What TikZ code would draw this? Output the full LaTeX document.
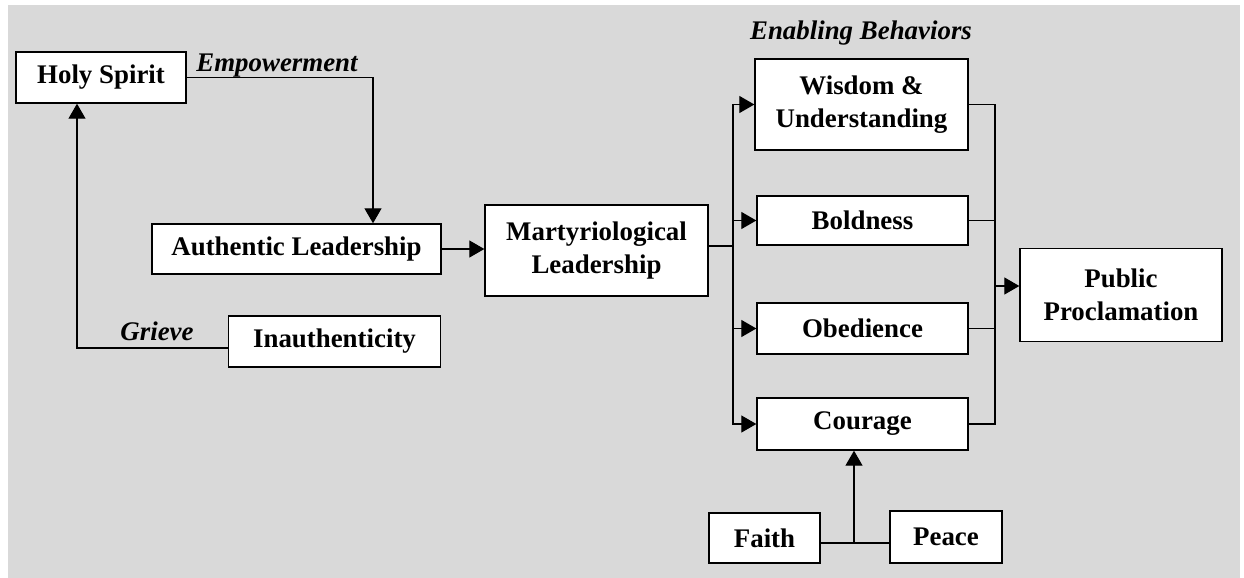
\documentclass[tikz,border=0pt]{standalone}
\usepackage{fontspec}
\setmainfont{Liberation Serif}
\usetikzlibrary{arrows.meta}
\definecolor{mygray}{RGB}{217,217,217}

\begin{document}
\begin{tikzpicture}[x=0.02cm,y=-0.02cm,inner sep=0pt,
  font=\fontsize{15.3}{19}\selectfont\bfseries]
\tikzstyle{box}=[rectangle, draw=black, fill=white, line width=0.8pt, align=center]
\tikzstyle{connect}=[-{Triangle[length=0.3cm,width=0.34cm]}, line width=0.7pt]
\tikzstyle{link}=[line width=0.7pt]
\tikzstyle{tag}=[font=\fontsize{15.3}{19}\selectfont\bfseries\itshape]
\useasboundingbox (0,0) rectangle (1244,578);
\fill[mygray] (8,5) rectangle (1240,578);
% boxes
\node[box, minimum width=3.4cm, minimum height=1.02cm] (hs) at (101,77.5) {Holy Spirit};
\node[box, minimum width=5.78cm, minimum height=1cm] (auth) at (296.5,249) {Authentic Leadership};
\node[box, minimum width=4.24cm, minimum height=1.02cm] (inauth) at (334.5,341.5) {Inauthenticity};
\node[box, minimum width=4.46cm, minimum height=1.82cm] (mart) at (596.5,250.5) {Martyriological\\Leadership};
\node[box, minimum width=4.26cm, minimum height=1.82cm] (wis) at (861.5,104.5) {Wisdom \&\\Understanding};
\node[box, minimum width=4.22cm, minimum height=0.98cm] (bold) at (862.5,220.5) {Boldness};
\node[box, minimum width=4.22cm, minimum height=1.02cm] (obed) at (862.5,328.5) {Obedience};
\node[box, minimum width=4.22cm, minimum height=1.04cm] (cour) at (862.5,424) {Courage};
\node[box, minimum width=4.04cm, minimum height=1.86cm] (pub) at (1121,295) {Public\\Proclamation};
\node[box, minimum width=2.22cm, minimum height=1cm] (faith) at (764.5,538) {Faith};
\node[box, minimum width=2.24cm, minimum height=1.04cm] (peace) at (946,537) {Peace};
% labels
\node[tag] (emp) at (277,66) {Empowerment};
\node[tag] (grv) at (157,331) {Grieve};
\node[tag] (enb) at (861,33) {Enabling Behaviors};
% bends
\coordinate (empc) at (373,77.5);
\coordinate (grvc) at (77,348);
\coordinate (split) at (733,246);
\coordinate (merge) at (995,286);
\coordinate (fp) at (854,543);
% connectors
\draw[connect] (hs.east) -- (empc) -- (empc |- auth.north);
\draw[connect] (inauth.west |- grvc) -- (grvc) -- (grvc |- hs.south);
\draw[connect] (auth.east) -- (auth.east -| mart.west);
\draw[link] (mart.east |- split) -- (split);
\foreach \b in {wis,bold,obed,cour}
  \draw[connect] (split) |- (\b.west);
\foreach \b in {wis,bold,obed,cour}
  \draw[link] (\b.east) -| (merge);
\draw[connect] (merge) -- (merge -| pub.west);
\draw[link] (faith.east |- fp) -- (peace.west |- fp);
\draw[connect] (fp) -- (fp |- cour.south);
\end{tikzpicture}
\end{document}
